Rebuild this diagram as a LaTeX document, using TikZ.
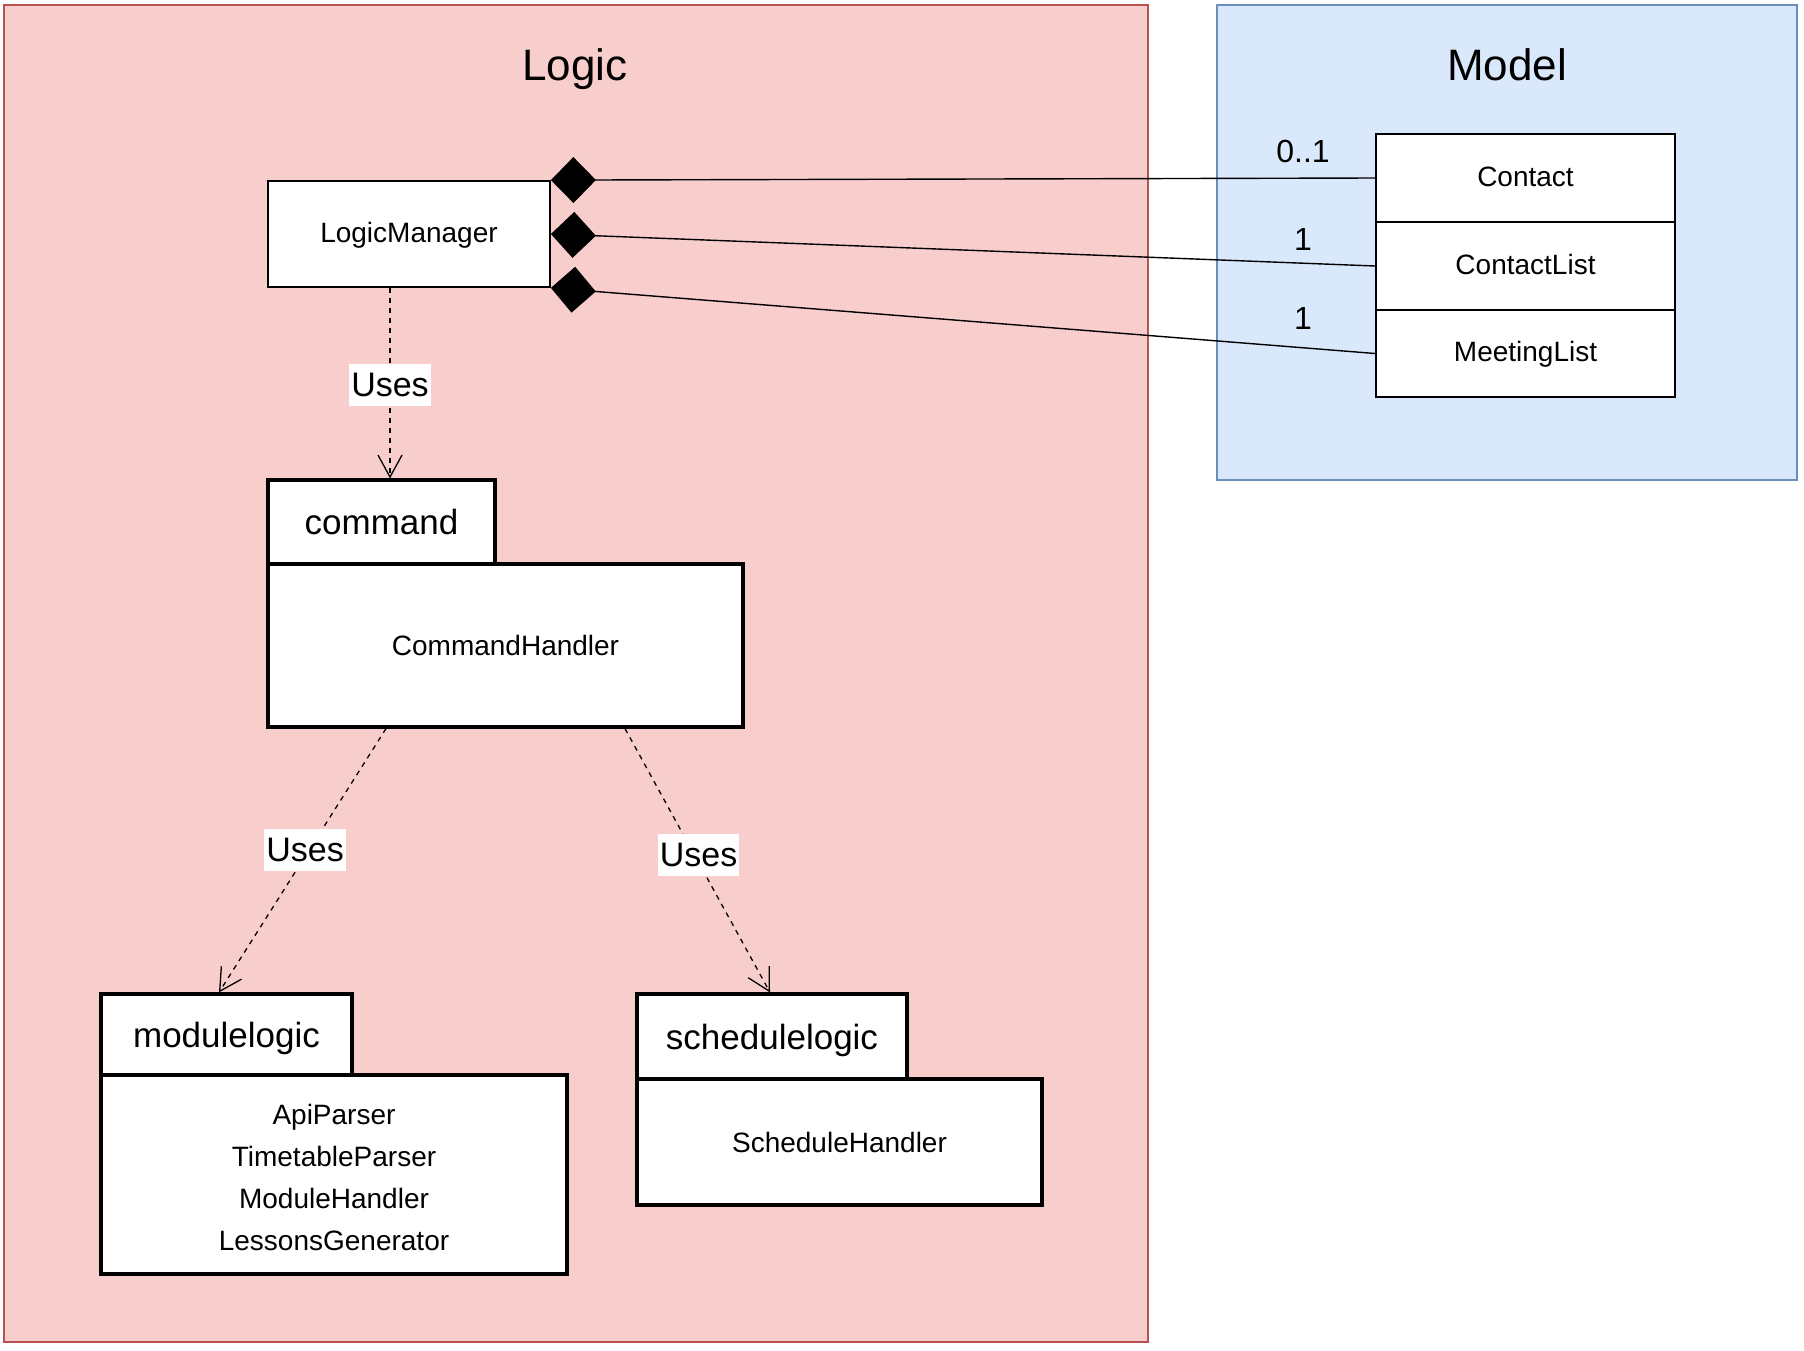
\documentclass[tikz,border=0pt]{standalone}
\usepackage{fontspec}
\setmainfont{Liberation Sans}
\usetikzlibrary{arrows.meta,calc}
\definecolor{logicfill}{HTML}{F8CECC}
\definecolor{logicdraw}{HTML}{B85450}
\definecolor{modelfill}{HTML}{DAE8FC}
\definecolor{modeldraw}{HTML}{6C8EBF}
\begin{document}
\begin{tikzpicture}[x=0.5pt,y=-0.5pt,
  region/.style={rectangle, line width=1pt, inner sep=0pt},
  titletext/.style={font=\fontsize{22}{26}\selectfont, inner sep=0pt},
  cls/.style={rectangle, draw=black, fill=white, line width=0.9pt, font=\fontsize{14}{17}\selectfont, text height=8.4pt, text depth=0pt, inner sep=0pt},
  pkgtab/.style={rectangle, draw=black, fill=white, line width=1.6pt, font=\fontsize{17.5}{21}\selectfont, text height=12.5pt, text depth=0pt, inner sep=0pt},
  pkgbody/.style={rectangle, draw=black, fill=white, line width=1.6pt, font=\fontsize{14}{21}\selectfont, inner sep=0pt, align=center},
  comp/.style={draw=black, line width=0.7pt, {Diamond[length=22.5pt,width=23pt]}-},
  uses/.style={draw=black, line width=0.65pt, dash pattern=on 2.5pt off 2.5pt, -{Straight Barb[length=11pt,width=12pt,line width=0.65pt]}},
  lbl/.style={fill=white, font=\fontsize{17}{20}\selectfont, inner xsep=1pt, inner ysep=4.5pt},
  mult/.style={font=\fontsize{16}{19}\selectfont, inner sep=0pt, anchor=base}
]
\useasboundingbox (0,0) rectangle (1804,1350);

% regions
\node[region, fill=logicfill, draw=logicdraw, minimum width=572pt, minimum height=668.5pt] (logic) at (576,673.5) {};
\node[region, fill=modelfill, draw=modeldraw, minimum width=290pt, minimum height=237.5pt] (model) at (1507,242.5) {};
\node[titletext, anchor=base] (logictitle) at (575,80) {Logic};
\node[titletext, anchor=base] (modeltitle) at (1507,80) {Model};

% classes
\node[cls, minimum width=141pt, minimum height=53pt] (lm) at (409,234) {LogicManager};
\node[cls, minimum width=149.5pt, minimum height=44pt] (contact) at (1525.5,178) {Contact};
\node[cls, minimum width=149.5pt, minimum height=44pt] (contactlist) at (1525.5,266) {ContactList};
\node[cls, minimum width=149.5pt, minimum height=43.5pt] (meetinglist) at (1525.5,353.5) {MeetingList};

% packages
\node[pkgbody, minimum width=237.5pt, minimum height=81.5pt] (cmdbody) at (505.5,645.5) {CommandHandler};
\node[pkgtab, minimum width=113.5pt, minimum height=42pt] (cmdtab) at (381.5,522) {command};

\node[pkgbody, minimum width=233pt, minimum height=99.5pt] (modbody) at (334,1174.5) {\rule{0pt}{13.5pt}ApiParser\\TimetableParser\\ModuleHandler\\LessonsGenerator};
\node[pkgtab, minimum width=125.5pt, minimum height=40.5pt] (modtab) at (226.5,1034.5) {modulelogic};

\node[pkgbody, minimum width=202.5pt, minimum height=63pt] (schbody) at (839.5,1142) {ScheduleHandler};
\node[pkgtab, minimum width=135pt, minimum height=42.5pt] (schtab) at (772,1036.5) {schedulelogic};

% compositions
\draw[comp] (lm.north east) -- (contact.west);
\draw[comp] (lm.east) -- (contactlist.west);
\draw[comp] (lm.south east) -- (meetinglist.west);
\node[mult] (m1) at (1303,162) {0..1};
\node[mult] (m2) at (1303,250) {1};
\node[mult] (m3) at (1303,329) {1};

% dependencies
\draw[uses] ([xshift=-9.5pt]lm.south) -- ([xshift=4.25pt]cmdtab.north) node[lbl, pos=0.51] {Uses};
\draw[uses] ([xshift=-59.75pt]cmdbody.south) -- ([xshift=-3.75pt]modtab.north) node[lbl, pos=0.46, xshift=-2pt] {Uses};
\draw[uses] ([xshift=59.75pt]cmdbody.south) -- ([xshift=-1pt]schtab.north) node[lbl, pos=0.48, xshift=2pt] {Uses};
\end{tikzpicture}
\end{document}
